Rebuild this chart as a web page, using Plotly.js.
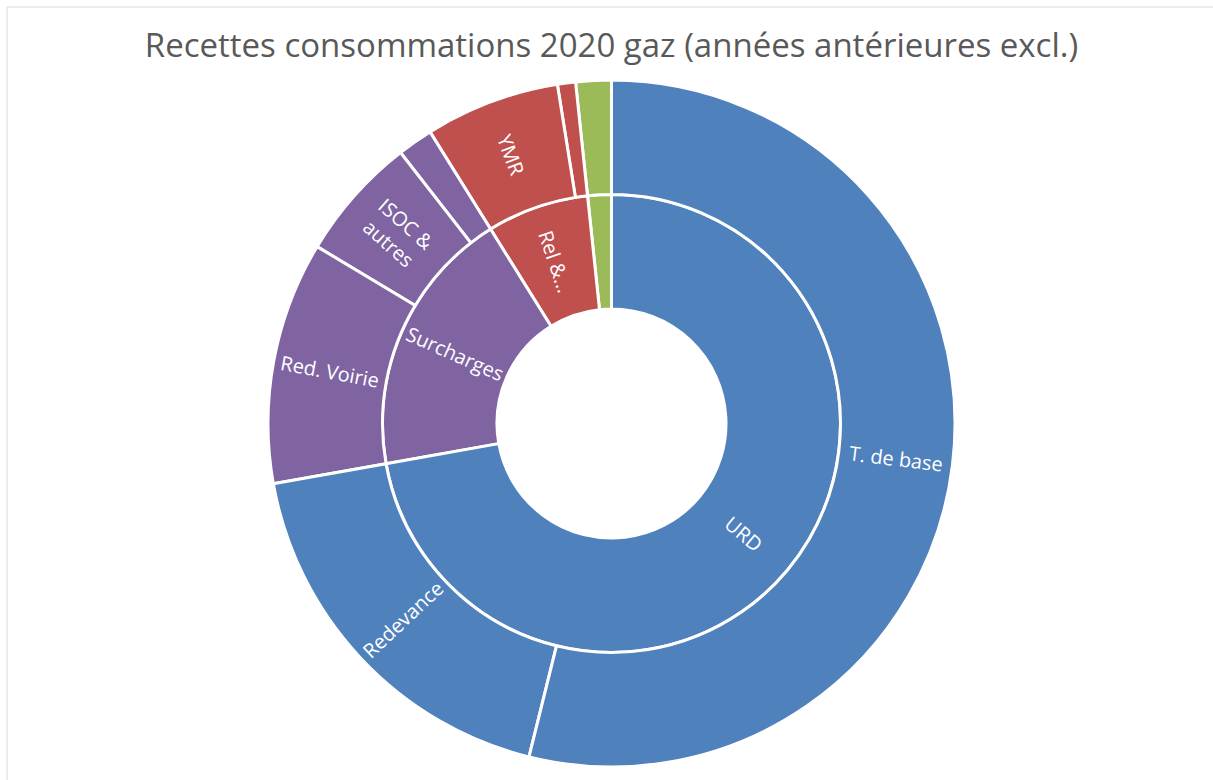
<!DOCTYPE html>
<html>
<head>
<meta charset="utf-8">
<script src="https://cdn.plot.ly/plotly-3.0.1.min.js"></script>
<style>
  html, body { margin: 0; padding: 0; background: #ffffff; }
  #chart { width: 1213px; height: 780px; }
</style>
</head>
<body>
<div id="chart"></div>
<script>
// ---- Data (percent of total) ----
const ids     = ["root", "g_in", "rel", "sur", "urd",
                 "g_out", "rel_small", "ymr",
                 "sur_small", "isoc", "voirie",
                 "redevance", "tbase"];
const labels  = ["Total", "Autres", "Rel & Ymr", "Surcharges", "URD",
                 "Autres ", "Rel", "YMR",
                 "Autres surcharges", "ISOC & autres", "Red. Voirie",
                 "Redevance", "T. de base"];
const parents = ["", "root", "root", "root", "root",
                 "g_in", "rel", "rel",
                 "sur", "sur", "sur",
                 "urd", "urd"];
const leafValues = {
  g_out: 1.67, rel_small: 0.85, ymr: 6.34,
  sur_small: 1.67, isoc: 5.86, voirie: 11.42,
  redevance: 18.33, tbase: 53.86
};
const shownText = ["", "", "Rel &...", "Surcharges", "URD",
                   "", "", "YMR",
                   "", "ISOC &<br>autres", "Red. Voirie",
                   "Redevance", "T. de base"];
const groupOf = {
  g_in: "green", g_out: "green",
  rel: "red", rel_small: "red", ymr: "red",
  sur: "purple", sur_small: "purple", isoc: "purple", voirie: "purple",
  urd: "blue", redevance: "blue", tbase: "blue",
  root: "none"
};

// ---- Build values (parents = sum of children) ----
function totalOf(id) {
  if (leafValues[id] !== undefined) return leafValues[id];
  let s = 0;
  ids.forEach((c, i) => { if (parents[i] === id) s += totalOf(c); });
  return s;
}
const values = ids.map(totalOf);

// ---- Styles ----
const palette = { blue: "#4F81BD", purple: "#8064A2", red: "#C0504D", green: "#9BBB59", none: "#FFFFFF" };
const colors = ids.map(id => palette[groupOf[id]]);

const W = 1213, H = 780;
const margin = { l: 90, r: 80, t: 80, b: 13 };
const pw = W - margin.l - margin.r, ph = H - margin.t - margin.b;
const px2x = p => (p - margin.l) / pw;
const py2y = p => (H - margin.b - p) / ph;

// ---- Label placement derived from the data (Plotly lays sectors counterclockwise from 12 o'clock) ----
const R = Math.min(pw, ph) / 2;
const total = values[0];
const startAngle = {}, depth = {};
startAngle["root"] = 0; depth["root"] = 0;
function layoutChildren(pid) {
  let a = startAngle[pid];
  ids.forEach((c, i) => {
    if (parents[i] === pid) {
      startAngle[c] = a;
      depth[c] = depth[pid] + 1;
      a += values[i] / total * 360;
      layoutChildren(c);
    }
  });
}
layoutChildren("root");

const annotations = [];
ids.forEach((id, i) => {
  if (!shownText[i]) return;
  const span = values[i] / total * 360;
  const phi = (startAngle[id] + span / 2) * Math.PI / 180;
  const r = R * (depth[id] + 0.5) / 3;
  const dx = -Math.sin(phi), dyScreen = -Math.cos(phi);
  let ang = Math.atan2(dyScreen, dx) * 180 / Math.PI;
  if (ang > 90) ang -= 180;
  if (ang < -90) ang += 180;
  annotations.push({
    xref: "paper", yref: "paper",
    x: 0.5 + r * dx / pw,
    y: 0.5 - r * dyScreen / ph,
    text: shownText[i],
    showarrow: false,
    xanchor: "center", yanchor: "middle",
    textangle: ang,
    font: { family: "Open Sans, sans-serif", size: 20, color: "#FFFFFF" }
  });
});

const trace = {
  type: "sunburst",
  ids: ids,
  labels: labels,
  parents: parents,
  values: values,
  textinfo: "none",
  branchvalues: "total",
  sort: false,
  rotation: 90,
  leaf: { opacity: 1 },
  marker: { colors: colors, line: { color: "#FFFFFF", width: 3 } },
  hoverinfo: "label+value"
};

const layout = {
  width: W, height: H,
  margin: margin,
  paper_bgcolor: "#FFFFFF",
  showlegend: false,
  title: {
    text: "Recettes consommations 2020 gaz (années antérieures excl.)",
    font: { family: "Open Sans, sans-serif", size: 33, color: "#595959" },
    x: 0.5, xref: "paper", xanchor: "center",
    y: 1 - 45 / H, yref: "container", yanchor: "middle"
  },
  annotations: annotations,
  shapes: [{
    type: "rect", xref: "paper", yref: "paper",
    x0: px2x(7), x1: px2x(W + 10), y0: py2y(H + 10), y1: py2y(7),
    line: { color: "#D9D9D9", width: 1 }, fillcolor: "rgba(0,0,0,0)"
  }]
};

Plotly.newPlot("chart", [trace], layout, { displayModeBar: false });
</script>
</body>
</html>
